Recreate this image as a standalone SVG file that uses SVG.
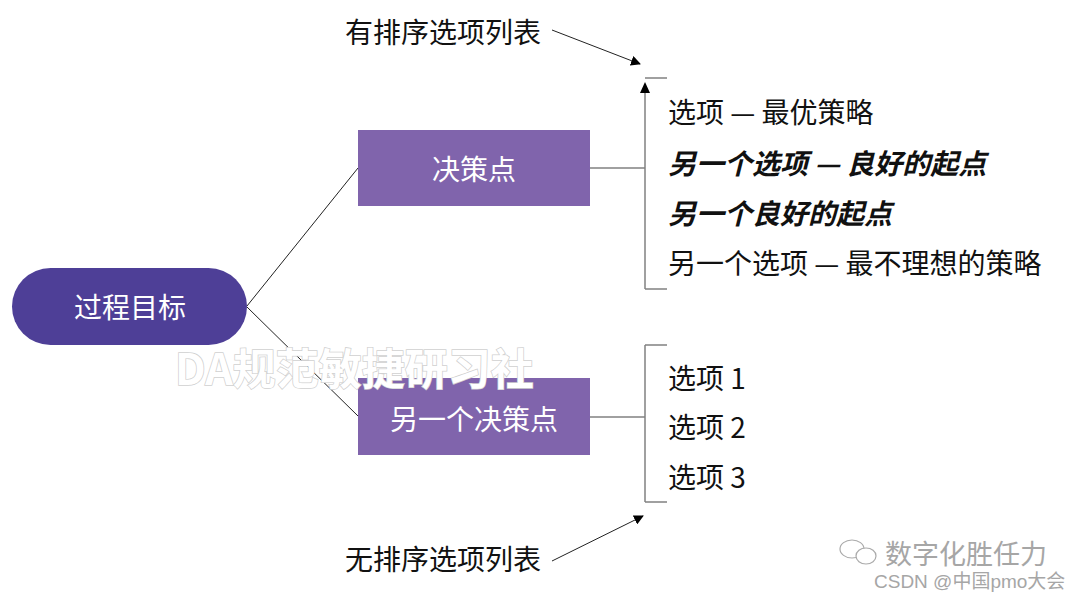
<svg xmlns="http://www.w3.org/2000/svg" width="1080" height="602" viewBox="0 0 1080 602">
<style>
text{font-family:"Noto Sans CJK SC","Noto Sans",sans-serif;font-size:28px;fill:#111;dominant-baseline:central}
.w{fill:#fff;text-anchor:middle}
.bi{font-weight:bold;font-style:italic}
.br{fill:none;stroke:#808080;stroke-width:1.5}
.cn{fill:none;stroke:#222;stroke-width:1}
.box{fill:#8064AC}
</style>
<defs>
<marker id="ah" markerWidth="10" markerHeight="10" refX="9" refY="5" orient="auto" markerUnits="userSpaceOnUse">
<path d="M0,0 L10,5 L0,10 Z" fill="#000"/>
</marker>
</defs>
<rect width="1080" height="602" fill="#fff"/>
<g id="connectors">
<line class="cn" x1="247" y1="306" x2="358" y2="168"/>
<line class="cn" x1="247" y1="307" x2="358" y2="416"/>
<line class="br" x1="590" y1="168" x2="645" y2="168"/>
<line class="br" x1="590" y1="417" x2="645" y2="417"/>
<line x1="552" y1="30" x2="640" y2="64" stroke="#222" stroke-width="1" marker-end="url(#ah)"/>
<line x1="552" y1="561" x2="643" y2="516" stroke="#222" stroke-width="1" marker-end="url(#ah)"/>
</g>
<g id="goal">
<rect x="12" y="268" width="235" height="77" rx="38.5" fill="#4E3F97"/>
<text class="w" x="130" y="306">过程目标</text>
</g>
<g id="decision1">
<rect class="box" x="358" y="130" width="232" height="76"/>
<text class="w" x="474" y="168">决策点</text>
</g>
<g id="decision2">
<rect class="box" x="358" y="378" width="232" height="77"/>
<text class="w" x="474" y="418">另一个决策点</text>
</g>
<g id="ordered-list">
<line class="br" x1="645" y1="289" x2="645" y2="90"/>
<path d="M640,93 L645,82 L650,93 Z" fill="#000"/>
<line class="br" x1="645" y1="78" x2="667" y2="78"/>
<line class="br" x1="645" y1="289" x2="667" y2="289"/>
<text x="668" y="111">选项 — 最优策略</text>
<text class="bi" x="668" y="162">另一个选项 — 良好的起点</text>
<text class="bi" x="668" y="212">另一个良好的起点</text>
<text x="668" y="262">另一个选项 — 最不理想的策略</text>
</g>
<g id="unordered-list">
<line class="br" x1="645" y1="345" x2="645" y2="502"/>
<line class="br" x1="645" y1="345" x2="667" y2="345"/>
<line class="br" x1="645" y1="502" x2="667" y2="502"/>
<text x="668" y="377">选项 1</text>
<text x="668" y="426">选项 2</text>
<text x="668" y="476">选项 3</text>
</g>
<g id="labels">
<text x="345" y="31">有排序选项列表</text>
<text x="345" y="558">无排序选项列表</text>
</g>
<g id="watermarks">
<text x="175" y="366" style="font-size:43px;font-weight:bold;fill:#fff;stroke:#d0d0d0;stroke-width:1.5;paint-order:stroke">DA规范敏捷研习社</text>
<g fill="#fff" stroke="#aaa" stroke-width="1.2">
<ellipse cx="852" cy="549" rx="12" ry="9"/>
<ellipse cx="866" cy="556" rx="10" ry="8"/>
</g>
<text x="885" y="552" style="font-size:27px;fill:#a6a6a6">数字化胜任力</text>
<text x="874" y="581" style="font-size:19px;fill:#a6a6a6;font-family:'Liberation Sans','Noto Sans CJK SC',sans-serif">CSDN @中国pmo大会</text>
</g>
</svg>
